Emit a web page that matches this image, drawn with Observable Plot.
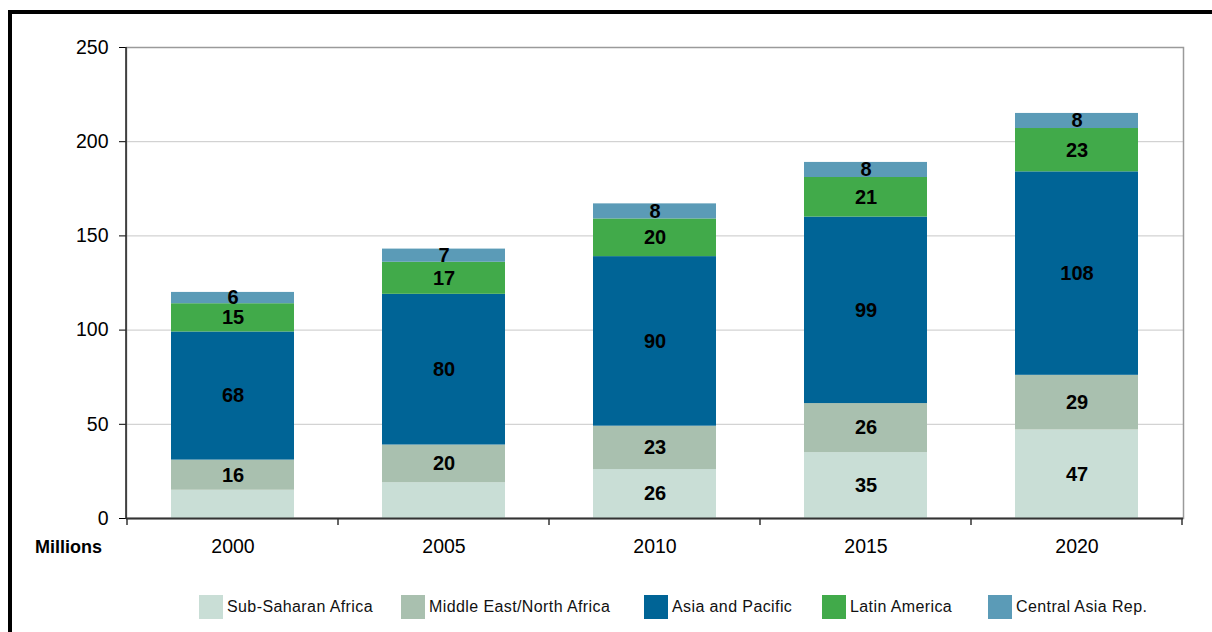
<!DOCTYPE html>
<html>
<head>
<meta charset="utf-8">
<script src="https://cdn.jsdelivr.net/npm/d3@7"></script>
<script src="https://cdn.jsdelivr.net/npm/@observablehq/plot@0.6"></script>
<style>
  html, body { margin: 0; padding: 0; background: #fff; width: 1212px; height: 632px; overflow: hidden; font-family: "Liberation Sans", Arial, sans-serif; }
  #chart { position: absolute; left: 0; top: 0; }
  #border { position: absolute; left: 8px; top: 10px; width: 1400px; height: 800px; border-top: 4px solid #000; border-left: 4px solid #000; box-sizing: border-box; pointer-events: none; }
  #unit { position: absolute; left: 35px; top: 537px; font-weight: bold; font-size: 18px; color: #000; }
  .lg { position: absolute; top: 595px; display: flex; align-items: center; font-size: 16px; letter-spacing: 0.4px; color: #111; white-space: nowrap; }
  .lg .sw { width: 24px; height: 24px; margin-right: 4px; }
</style>
</head>
<body>
<div id="chart"></div>
<div id="unit">Millions</div>
<div id="legend"></div>
<div id="border"></div>
<script>
const years = ["2000", "2005", "2010", "2015", "2020"];
const regions = ["Sub-Saharan Africa", "Middle East/North Africa", "Asia and Pacific", "Latin America", "Central Asia Rep."];
const subSaharanAfrica = [15, 19, 26, 35, 47];
const middleEastNorthAfrica = [16, 20, 23, 26, 29];
const asiaPacific = [68, 80, 90, 99, 108];
const latinAmerica = [15, 17, 20, 21, 23];
const centralAsiaRep = [6, 7, 8, 8, 8];
// which segment values are printed on the bars (Sub-Saharan 2000 & 2005 are not)
const subSaharanLabelled = [false, false, true, true, true];
const colors = ["#c9ded6", "#a9c0af", "#006496", "#41aa4a", "#5b9bb7"];
const yTicks = [0, 50, 100, 150, 200, 250];
const legendLeft = [199, 401, 644, 822, 988];

const series = [subSaharanAfrica, middleEastNorthAfrica, asiaPacific, latinAmerica, centralAsiaRep];
const data = [];
years.forEach((year, i) => {
  regions.forEach((region, r) => {
    data.push({year, region, value: series[r][i], show: r === 0 ? subSaharanLabelled[i] : true});
  });
});

const chart = Plot.plot({
  width: 1212,
  height: 570,
  marginLeft: 126,
  marginRight: 29,
  marginTop: 47,
  marginBottom: 52,
  style: {fontFamily: '"Liberation Sans", Arial, sans-serif', fontSize: "19.5px", color: "#000", background: "transparent"},
  x: {domain: years, padding: 0, tickSize: 0, tickPadding: 21, label: null},
  y: {domain: [0, 250], ticks: yTicks, tickSize: 7, tickPadding: 11, label: null},
  color: {domain: regions, range: colors},
  marks: [
    Plot.ruleY(yTicks.slice(1, -1), {stroke: "#c8c8c8", strokeWidth: 1}),
    Plot.frame({stroke: "#9a9a9a", strokeWidth: 1.5}),
    Plot.barY(data, {x: "year", y: "value", fill: "region", order: regions, insetLeft: 44, insetRight: 44}),
    Plot.text(data, Plot.stackY({
      x: "year", y: "value", z: "region", order: regions,
      text: d => d.show ? String(d.value) : "",
      fontWeight: "bold", fontSize: 20, fill: "#000"
    })),
    Plot.ruleY([0], {stroke: "#333", strokeWidth: 2})
  ]
});

// y-axis line and category-boundary ticks, placed with the plot's own scales
const sx = chart.scale("x");
const sy = chart.scale("y");
const svg = d3.select(chart.tagName.toLowerCase() === "svg" ? chart : chart.querySelector("svg"));
const y0 = sy.apply(0), y1 = sy.apply(250);
const x0 = sx.range[0];
svg.append("line").attr("x1", x0).attr("x2", x0).attr("y1", y1).attr("y2", y0 + 1)
  .attr("stroke", "#222").attr("stroke-width", 1.5);
const bounds = years.map(y => sx.apply(y)).concat([sx.apply(years[years.length - 1]) + sx.step]);
svg.selectAll("line.bnd").data(bounds).join("line").attr("class", "bnd")
  .attr("x1", d => d).attr("x2", d => d).attr("y1", y0).attr("y2", y0 + 7)
  .attr("stroke", "#333").attr("stroke-width", 1.5);

document.getElementById("chart").appendChild(chart);

const legend = document.getElementById("legend");
regions.forEach((r, i) => {
  const item = document.createElement("div");
  item.className = "lg";
  item.style.left = legendLeft[i] + "px";
  item.innerHTML = `<div class="sw" style="background:${colors[i]}"></div><span>${r}</span>`;
  legend.appendChild(item);
});
</script>
</body>
</html>
